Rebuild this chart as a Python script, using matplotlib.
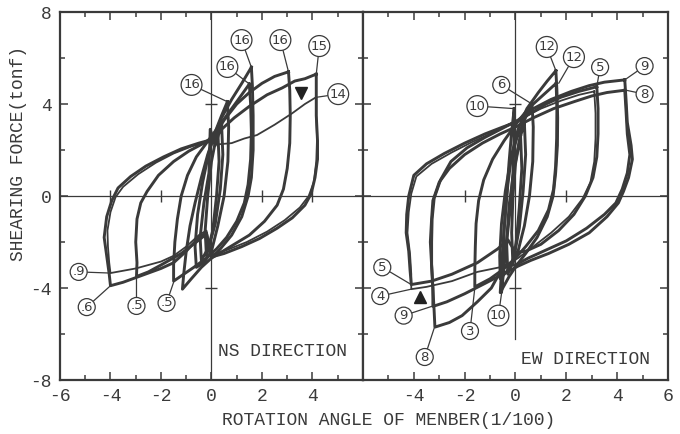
import matplotlib
matplotlib.use('Agg')
import matplotlib.pyplot as plt

plt.rcParams['font.family'] = ['Liberation Mono', 'DejaVu Sans Mono']
plt.rcParams['axes.unicode_minus'] = False

# hysteresis loops, (rotation 1/100, shear tonf)
ns_small_1 = [(0.25, 2.9), (0.3, 1.5), (0.2, 0), (0.05, -1.5), (-0.2, -2.6), (-0.25, -1.5),
              (-0.15, 0), (0, 1.5), (0.25, 2.9)]
ns_small_2 = [(0.4, 3.1), (0.45, 1.8), (0.35, 0.3), (0.15, -1.2), (-0.1, -2.2), (-0.4, -2.8),
              (-0.45, -1.8), (-0.3, -0.3), (-0.1, 1.0), (-0.05, 2.9), (0.15, 2.2), (0.4, 3.1)]
ns_loop_16d = [(0.63, 4.1), (0.68, 3.0), (0.65, 1.5), (0.5, 0), (0.25, -1.3), (0, -2.4), (-0.3, -2.9),
               (-0.6, -3.1), (-0.65, -2.2), (-0.55, -0.8), (-0.35, 0.6), (-0.1, 1.9), (0.15, 2.8),
               (0.4, 3.5), (0.63, 4.1)]
ns_loop_16a = [(1.58, 5.6), (1.62, 4.8), (1.65, 3.5), (1.65, 2.0), (1.58, 0.8), (1.45, 0), (1.2, -0.9),
               (0.8, -1.7), (0.35, -2.3), (0, -2.7), (-0.4, -3.1), (-0.8, -3.6), (-1.15, -4.05),
               (-1.1, -3.4), (-1.0, -2.4), (-0.85, -1.3), (-0.65, -0.3), (-0.4, 0.8), (-0.15, 1.8),
               (0.1, 2.6), (0.4, 3.4), (0.8, 4.2), (1.2, 4.9), (1.58, 5.6)]
ns_loop_16c = [(1.5, 4.87), (1.55, 4.0), (1.58, 2.8), (1.55, 1.6), (1.45, 0.5), (1.3, -0.3), (1.0, -1.1),
               (0.6, -1.8), (0.2, -2.3), (-0.2, -2.7), (-0.7, -3.1), (-1.1, -3.4), (-1.5, -3.7),
               (-1.5, -3.0), (-1.45, -2.0), (-1.35, -1.0), (-1.2, 0), (-0.95, 0.9), (-0.6, 1.7),
               (-0.2, 2.3), (0.2, 2.9), (0.6, 3.5), (1.0, 4.1), (1.5, 4.87)]
ns_loop_16b = [(3.05, 5.4), (3.1, 4.6), (3.12, 3.5), (3.1, 2.3), (3.0, 1.2), (2.85, 0.3), (2.6, -0.4),
               (2.1, -1.1), (1.5, -1.7), (0.9, -2.1), (0.3, -2.5), (0, -2.7), (-0.25, -1.7),
               (-0.6, -2.0), (-1.2, -2.5), (-2.0, -3.0), (-2.5, -3.3), (-2.97, -3.5), (-2.95, -2.9),
               (-3.0, -2.0), (-2.95, -1.0), (-2.8, -0.3), (-2.55, 0.2), (-2.1, 0.9), (-1.5, 1.5),
               (-0.9, 1.95), (-0.3, 2.3), (0.1, 2.6), (0.5, 3.3), (1.0, 4.0), (1.5, 4.5), (2.0, 4.9),
               (2.5, 5.2), (3.05, 5.4)]
ns_loop_15 = [(4.15, 5.3), (4.15, 4.6), (4.15, 3.5), (4.2, 2.4), (4.2, 1.6), (4.1, 0.8), (3.95, 0.1),
              (3.7, -0.4), (3.2, -0.95), (2.6, -1.4), (1.9, -1.85), (1.2, -2.2), (0.5, -2.5), (0, -2.65),
              (-0.2, -1.6), (-0.5, -1.8), (-1.0, -2.4), (-1.5, -2.9), (-2.0, -3.15), (-3.0, -3.55),
              (-3.5, -3.75), (-4.0, -3.9), (-4.05, -3.4), (-4.15, -2.6), (-4.25, -1.8), (-4.15, -0.9),
              (-3.95, -0.2), (-3.7, 0.35), (-3.2, 0.85), (-2.6, 1.3), (-1.9, 1.7), (-1.2, 2.05),
              (-0.5, 2.3), (0, 2.45), (0.4, 2.9), (0.9, 3.4), (1.5, 3.9), (2.2, 4.4), (2.8, 4.7),
              (3.3, 5.0), (3.7, 5.1), (4.15, 5.3)]
ns_loop_14 = [(4.15, 4.3), (4.15, 3.5), (4.18, 2.5), (4.15, 1.5), (4.05, 0.6), (3.85, 0), (3.5, -0.5),
              (2.9, -1.05), (2.2, -1.55), (1.4, -2.0), (0.6, -2.35), (0, -2.55), (-0.2, -1.5),
              (-0.5, -1.7), (-1.0, -2.2), (-1.5, -2.6), (-2.0, -2.85), (-3.0, -3.15), (-4.0, -3.35),
              (-4.05, -2.9), (-4.1, -2.2), (-4.12, -1.5), (-4.0, -0.7), (-3.8, -0.05), (-3.5, 0.4),
              (-2.9, 0.95), (-2.2, 1.45), (-1.5, 1.85), (-0.8, 2.15), (-0.2, 2.35), (0.3, 2.25),
              (0.8, 2.3), (1.3, 2.5), (1.8, 2.65), (2.5, 3.1), (3.2, 3.6), (3.7, 4.0), (4.15, 4.3)]

ew_small_1 = [(0.2, 2.6), (0.25, 1.2), (0.15, -0.5), (0.05, -1.8), (-0.1, -3.0), (-0.15, -1.6),
              (-0.1, 0), (0, 1.4), (0.2, 2.6)]
ew_small_2 = [(0.35, 3.2), (0.4, 1.8), (0.3, 0.2), (0.15, -1.4), (-0.05, -2.6), (-0.3, -3.4),
              (-0.35, -2.0), (-0.25, -0.4), (-0.05, 1.2), (0.15, 2.4), (0.35, 3.2)]
ew_loop_10 = [(-0.05, 3.8), (-0.05, 2.5), (-0.1, 1.0), (-0.2, -0.5), (-0.35, -2.0), (-0.55, -4.2),
              (-0.5, -3.0), (-0.45, -1.5), (-0.35, 0), (-0.25, 1.5), (-0.15, 2.8), (-0.05, 3.8)]
ew_loop_6 = [(0.65, 4.0), (0.7, 3.0), (0.68, 1.5), (0.55, 0), (0.35, -1.3), (0.1, -2.4), (-0.2, -3.1),
             (-0.6, -3.6), (-0.62, -2.6), (-0.55, -1.2), (-0.4, 0.2), (-0.2, 1.5), (0.05, 2.5),
             (0.35, 3.3), (0.65, 4.0)]
ew_loop_12a = [(1.59, 5.45), (1.63, 4.6), (1.66, 3.4), (1.65, 2.2), (1.58, 1.0), (1.48, 0), (1.25, -0.9),
               (0.85, -1.8), (0.4, -2.5), (0.05, -3.0), (-0.25, -3.5), (-0.6, -4.2), (-0.55, -3.3),
               (-0.5, -2.2), (-0.4, -0.8), (-0.3, 0.5), (-0.15, 1.8), (0.1, 2.9), (0.45, 3.8),
               (0.9, 4.5), (1.25, 5.0), (1.59, 5.45)]
ew_loop_12b = [(1.6, 4.9), (1.63, 3.8), (1.62, 2.5), (1.58, 1.3), (1.5, 0.3), (1.3, -0.6), (0.9, -1.5),
               (0.4, -2.2), (0, -2.7), (-0.5, -3.2), (-1.0, -3.6), (-1.6, -3.95), (-1.6, -3.2),
               (-1.58, -2.2), (-1.55, -1.2), (-1.45, -0.2), (-1.25, 0.7), (-0.9, 1.6), (-0.45, 2.4),
               (0, 3.1), (0.5, 3.8), (1.0, 4.3), (1.6, 4.9)]
ew_loop_5 = [(3.2, 4.75), (3.25, 3.8), (3.25, 2.7), (3.2, 1.7), (3.05, 0.8), (2.75, 0), (2.3, -0.8),
             (1.7, -1.5), (1.0, -2.1), (0.4, -2.4), (0, -2.45), (-0.3, -1.9), (-0.7, -2.3),
             (-1.5, -2.9), (-2.5, -3.4), (-3.3, -3.7), (-4.1, -3.85), (-4.15, -3.2), (-4.2, -2.4),
             (-4.3, -1.6), (-4.28, -0.8), (-4.2, 0), (-4.0, 0.9), (-3.5, 1.4), (-2.8, 1.85), (-2.0, 2.3),
             (-1.2, 2.7), (-0.5, 3.0), (0, 3.2), (0.6, 3.6), (1.2, 4.0), (1.8, 4.3), (2.5, 4.55),
             (3.2, 4.75)]
ew_loop_4 = [(3.1, 4.55), (3.15, 3.6), (3.15, 2.5), (3.1, 1.5), (2.95, 0.6), (2.65, -0.1), (2.1, -0.9),
             (1.4, -1.6), (0.7, -2.2), (0.1, -2.7), (-0.4, -3.05), (-1.5, -3.3), (-2.5, -3.7),
             (-3.5, -3.95), (-4.1, -4.05), (-4.1, -3.4), (-4.15, -2.5), (-4.25, -1.6),
             (-4.2, -0.7), (-4.1, 0.1), (-3.9, 0.85), (-3.3, 1.4), (-2.5, 1.9), (-1.7, 2.35),
             (-0.9, 2.75), (-0.3, 3.1), (0.3, 3.4), (1.0, 3.8), (1.8, 4.15), (2.5, 4.4), (3.1, 4.55)]
ew_loop_9 = [(4.3, 5.05), (4.35, 4.2), (4.4, 3.2), (4.55, 2.2), (4.6, 1.6), (4.45, 0.8), (4.25, 0.2),
             (4.05, -0.3), (3.6, -0.9), (2.9, -1.6), (2.1, -2.1), (1.3, -2.5), (0.6, -2.8), (0.1, -3.05),
             (-0.5, -3.4), (-1.2, -3.8), (-2.0, -4.25), (-2.7, -4.6), (-3.25, -4.8), (-3.25, -4.0),
             (-3.3, -3.0), (-3.3, -2.0), (-3.28, -1.0), (-3.2, -0.1), (-2.95, 0.7), (-2.54, 1.5),
             (-1.9, 2.1), (-1.2, 2.55), (-0.5, 2.95), (0.1, 3.3), (0.7, 3.8), (1.4, 4.2), (2.2, 4.55),
             (2.9, 4.8), (3.5, 4.95), (4.3, 5.05)]
ew_loop_8 = [(4.3, 4.6), (4.35, 3.7), (4.4, 2.7), (4.5, 1.8), (4.4, 1.0), (4.2, 0.3), (3.95, -0.3),
             (3.5, -0.8), (2.8, -1.4), (2.0, -1.95), (1.2, -2.35), (0.5, -2.7), (0, -3.0), (-0.4, -3.0),
             (-0.7, -3.5), (-0.95, -4.0), (-1.5, -4.6), (-2.1, -5.2), (-2.6, -5.5), (-3.17, -5.7),
             (-3.2, -5.0), (-3.25, -4.0), (-3.3, -3.0), (-3.35, -2.0), (-3.3, -1.0), (-3.25, -0.2),
             (-3.0, 0.6), (-2.6, 1.2), (-2.0, 1.8), (-1.3, 2.3), (-0.6, 2.7), (0, 3.0), (0.7, 3.4),
             (1.5, 3.8), (2.3, 4.1), (3.0, 4.35), (3.6, 4.5), (4.3, 4.6)]

# circled cycle numbers: text, label centre, point on curve
ns_labels = [('16', (1.19, 6.78), (1.58, 5.6)), ('16', (2.73, 6.78), (3.05, 5.4)),
             ('15', (4.27, 6.52), (4.15, 5.3)), ('16', (0.63, 5.61), (1.5, 4.87)),
             ('16', (-0.79, 4.83), (0.63, 4.1)), ('14', (5.02, 4.43), (4.2, 4.3)),
             ('.9', (-5.26, -3.3), (-4.0, -3.35)), ('.6', (-4.94, -4.83), (-4.0, -3.9)),
             ('.5', (-2.97, -4.78), (-2.97, -3.55)), ('.5', (-1.78, -4.65), (-1.5, -3.75))]
ew_labels = [('12', (1.23, 6.48), (1.59, 5.45)), ('12', (2.3, 6.04), (1.7, 4.9)),
             ('5', (3.33, 5.6), (3.2, 4.75)), ('9', (5.08, 5.65), (4.3, 5.05)),
             ('8', (5.08, 4.43), (4.35, 4.6)), ('6', (-0.56, 4.83), (0.65, 4.0)),
             ('10', (-1.5, 3.91), (-0.05, 3.8)), ('5', (-5.24, -3.1), (-4.1, -3.85)),
             ('4', (-5.32, -4.35), (-4.1, -4.05)), ('9', (-4.4, -5.2), (-3.3, -4.8)),
             ('8', (-3.57, -7.0), (-3.2, -5.75)), ('3', (-1.79, -5.87), (-1.6, -4.0)),
             ('10', (-0.67, -5.2), (-0.55, -4.25))]

ns_marker = (3.56, 4.5)
ew_marker = (-3.77, -4.4)

ink = '#3a3a3a'

fig = plt.figure(figsize=(6.8, 4.34), dpi=100)
ax1 = fig.add_axes([0.0882, 0.1244, 0.4456, 0.8479])
ax2 = fig.add_axes([0.5338, 0.1244, 0.4485, 0.8479])

ns_thick = [ns_small_1, ns_small_2, ns_loop_16d, ns_loop_16a, ns_loop_16c, ns_loop_16b, ns_loop_15]
ns_thin = [ns_loop_14]
ew_thick = [ew_small_1, ew_small_2, ew_loop_10, ew_loop_6, ew_loop_12a, ew_loop_12b, ew_loop_5,
            ew_loop_8, ew_loop_9]
ew_thin = [ew_loop_4]

for ax, thick, thin, labels in [(ax1, ns_thick, ns_thin, ns_labels), (ax2, ew_thick, ew_thin, ew_labels)]:
    for loop in thick:
        xs, ys = zip(*loop)
        ax.plot(xs, ys, color=ink, lw=2.1, solid_joinstyle='round', zorder=3)
    for loop in thin:
        xs, ys = zip(*loop)
        ax.plot(xs, ys, color=ink, lw=1.3, zorder=3)
    for txt, pos, pt in labels:
        ax.annotate(txt, xy=pt, xytext=pos, ha='center', va='center', fontsize=9.5,
                    family='DejaVu Sans', color=ink, zorder=5,
                    bbox=dict(boxstyle='circle,pad=0.15', fc='white', ec=ink, lw=0.9),
                    arrowprops=dict(arrowstyle='-', color=ink, lw=0.9, shrinkA=0, shrinkB=0))
    ax.set_xlim(-6, 6)
    ax.set_ylim(-8, 8)
    ax.axhline(0, color=ink, lw=0.9, zorder=1)
    ax.set_xticks(range(-6, 7, 2))
    ax.set_xticks(range(-5, 6, 2), minor=True)
    ax.set_yticks([-8, -4, 0, 4, 8])
    ax.set_yticks([-6, -2, 2, 6], minor=True)
    ax.tick_params(which='both', direction='in', top=True, right=True, colors=ink, labelsize=13,
                   width=1.1, pad=6)
    ax.tick_params(which='major', length=6)
    ax.tick_params(which='minor', length=3.5)
    for s in ax.spines.values():
        s.set_linewidth(1.6)
        s.set_color(ink)

ax1.axvline(0, color=ink, lw=0.9, zorder=1)
ax1.plot([-4, -2, 2, 4], [0, 0, 0, 0], ls='none', marker='|', ms=9, mew=1, color=ink)
ax1.plot([0, 0], [4, -4], ls='none', marker='_', ms=9, mew=1, color=ink)
ax2.axvline(0, ymin=(8 - 6.2) / 16, color=ink, lw=0.9, zorder=1)
ax2.plot([-2, 2], [0, 0], ls='none', marker='|', ms=9, mew=1, color=ink)
ax2.plot([0, 0], [4, -4], ls='none', marker='_', ms=9, mew=1, color=ink)

ax1.plot(*ns_marker, marker='v', ms=9, color='#222', zorder=6)
ax2.plot(*ew_marker, marker='^', ms=9, color='#222', zorder=6)

ax1.set_xticklabels(['-6', '-4', '-2', '0', '2', '4', ''])
ax2.set_xticklabels(['', '-4', '-2', '0', '2', '4', '6'])
ax2.set_yticklabels([])

ax1.text(0.25, -6.75, 'NS DIRECTION', fontsize=13, color=ink, va='center')
ax2.text(0.2, -7.1, 'EW DIRECTION', fontsize=13, color=ink, va='center')

fig.text(0.571, 0.032, 'ROTATION ANGLE OF MENBER(1/100)', ha='center', va='center', fontsize=13, color=ink)
fig.text(0.027, 0.647, 'SHEARING FORCE(tonf)', ha='center', va='center', rotation=90, fontsize=13,
         color=ink)

fig.savefig('out.png', dpi=100)
